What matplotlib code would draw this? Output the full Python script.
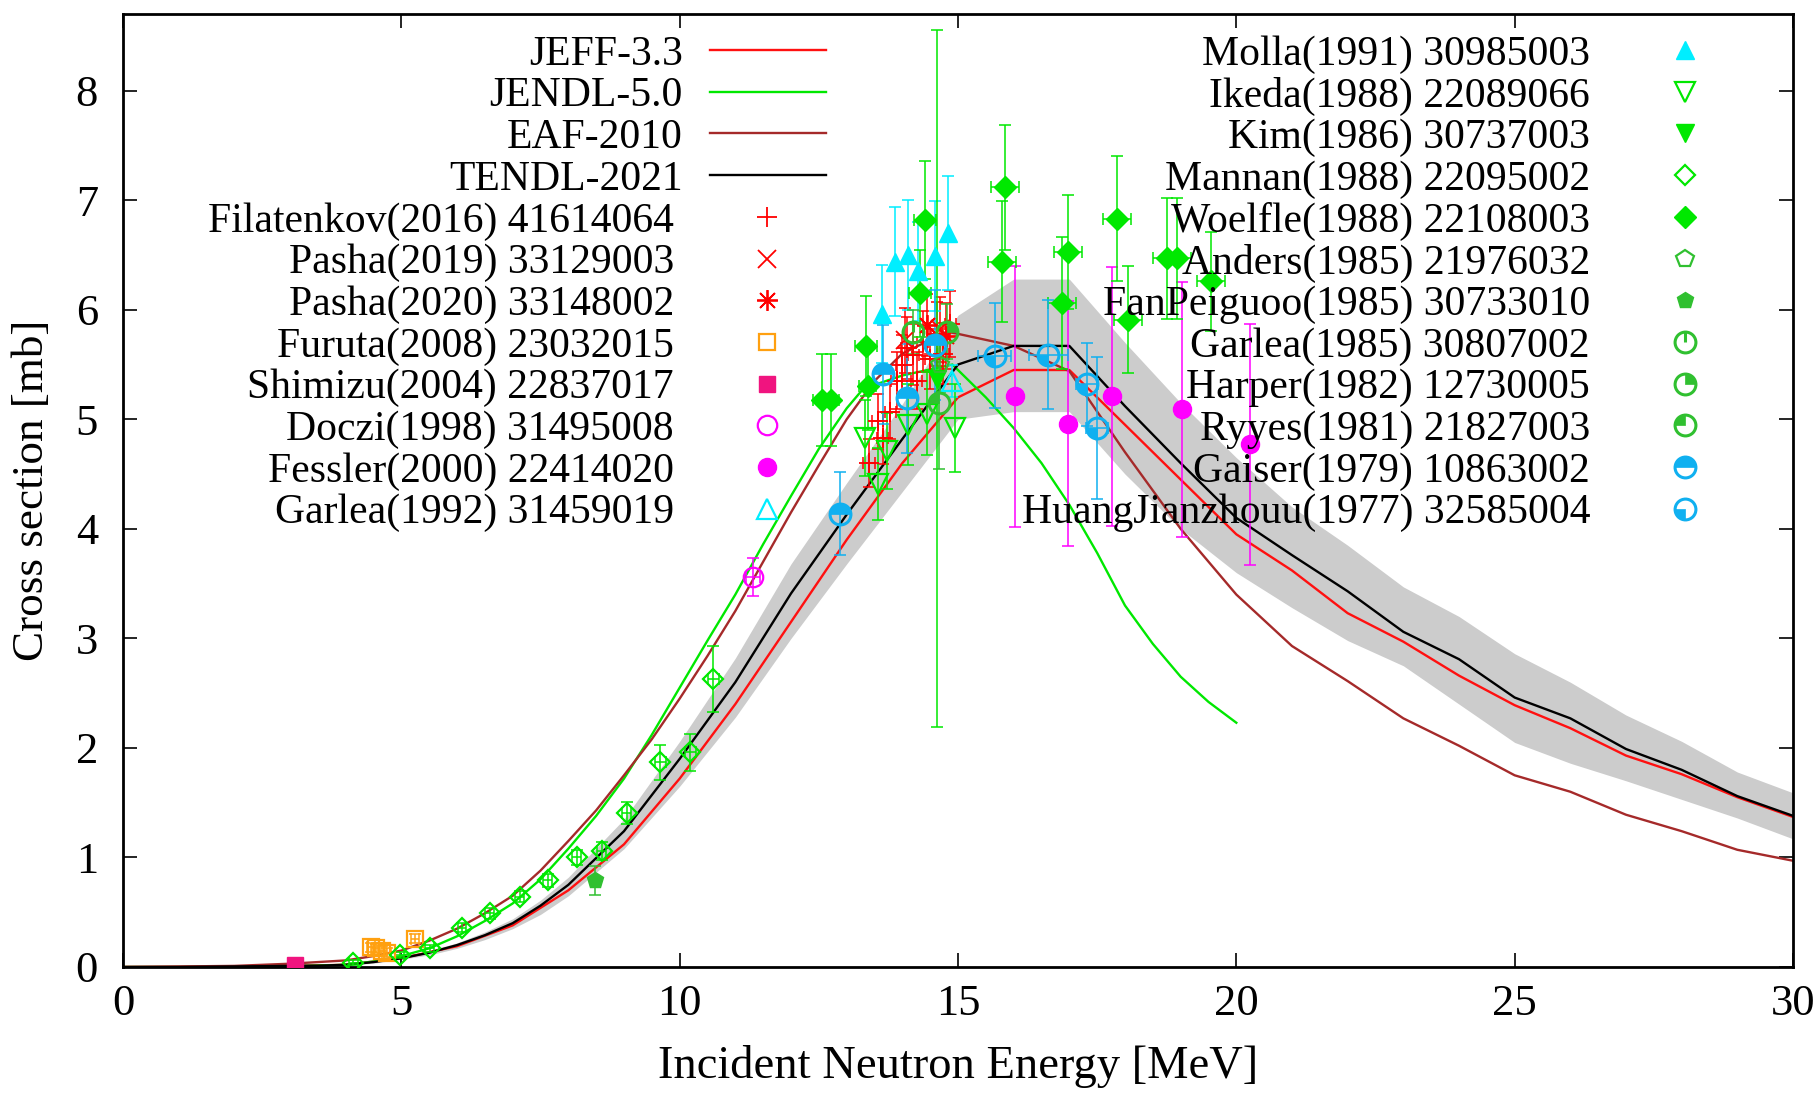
import matplotlib
matplotlib.use("Agg")
import matplotlib.pyplot as plt
from matplotlib import font_manager
from matplotlib.path import Path

# Times-lignende skrift
tilgjengelig = {f.name for f in font_manager.fontManager.ttflist}
serif_liste = [n for n in ("Liberation Serif", "Times New Roman", "Nimbus Roman",
                           "STIXGeneral", "DejaVu Serif") if n in tilgjengelig]
plt.rcParams["font.family"] = "serif"
plt.rcParams["font.serif"] = serif_liste + ["DejaVu Serif"]

# ---- evaluerte data (mb) ----
E_jeff = [0, 1, 2, 3, 4, 5, 6, 7, 8, 9, 10, 11, 12, 13, 14, 15, 16, 17, 18, 19, 20,
          21, 22, 23, 24, 25, 26, 27, 28, 29, 30]
xs_jeff = [0, 0, 0.005, 0.01, 0.02, 0.08, 0.19, 0.38, 0.7, 1.12, 1.72, 2.4, 3.15, 3.9,
           4.6, 5.2, 5.45, 5.45, 4.95, 4.45, 3.95, 3.62, 3.23, 2.97, 2.66, 2.39, 2.18,
           1.93, 1.76, 1.55, 1.37]

E_jendl = [0, 1, 2, 3, 4, 4.5, 5, 5.5, 6, 6.5, 7, 7.5, 8, 8.5, 9, 9.5, 10, 10.5, 11,
           11.5, 12, 12.5, 13, 13.3, 14, 14.9, 15.5, 16, 16.5, 17, 17.5, 18, 18.5, 19,
           19.5, 20]
xs_jendl = [0, 0, 0.002, 0.006, 0.02, 0.05, 0.1, 0.17, 0.28, 0.42, 0.58, 0.8, 1.08,
            1.38, 1.72, 2.12, 2.55, 2.98, 3.4, 3.86, 4.3, 4.73, 5.1, 5.28, 5.4, 5.5,
            5.2, 4.92, 4.6, 4.22, 3.78, 3.3, 2.95, 2.65, 2.42, 2.23]

E_eaf = [0, 1, 2, 3, 4, 4.5, 5, 5.5, 6, 6.5, 7, 7.5, 8, 8.5, 9, 9.5, 10, 10.5, 11,
         11.5, 12, 12.5, 13, 13.5, 14, 14.8, 15, 16, 17, 18, 19, 20, 21, 22, 23, 24,
         25, 26, 27, 28, 29, 30]
xs_eaf = [0, 0.005, 0.01, 0.03, 0.06, 0.1, 0.15, 0.24, 0.35, 0.49, 0.65, 0.88, 1.15,
          1.43, 1.75, 2.08, 2.45, 2.84, 3.25, 3.7, 4.15, 4.58, 5.0, 5.35, 5.6, 5.8,
          5.78, 5.67, 5.44, 4.7, 4.0, 3.4, 2.93, 2.61, 2.27, 2.02, 1.75, 1.6, 1.39,
          1.24, 1.07, 0.97]

E_tendl = [0, 1, 2, 3, 3.5, 4, 4.5, 5, 5.5, 6, 6.5, 7, 7.5, 8, 9, 10, 11, 12, 13, 14,
           15, 16, 17, 18, 19, 20, 21, 22, 23, 24, 25, 26, 27, 28, 29, 30]
xs_tendl = [0, 0, 0.005, 0.01, 0.012, 0.02, 0.045, 0.08, 0.13, 0.2, 0.29, 0.4, 0.56,
            0.75, 1.24, 1.9, 2.6, 3.41, 4.13, 4.82, 5.5, 5.67, 5.67, 5.12, 4.6, 4.1,
            3.76, 3.43, 3.06, 2.81, 2.46, 2.27, 1.99, 1.8, 1.56, 1.38]
tendl_hoy = [0, 0, 0.006, 0.012, 0.015, 0.025, 0.052, 0.09, 0.15, 0.22, 0.32, 0.44,
             0.61, 0.82, 1.35, 2.06, 2.82, 3.68, 4.42, 5.14, 5.95, 6.28, 6.28, 5.7,
             5.15, 4.65, 4.2, 3.85, 3.47, 3.2, 2.86, 2.6, 2.3, 2.06, 1.78, 1.59]
tendl_lav = [0, 0, 0.004, 0.008, 0.01, 0.015, 0.035, 0.07, 0.11, 0.17, 0.25, 0.35,
             0.48, 0.65, 1.08, 1.65, 2.28, 3.0, 3.68, 4.34, 5.0, 5.07, 5.07, 4.5, 4.0,
             3.6, 3.28, 2.98, 2.75, 2.4, 2.05, 1.86, 1.7, 1.53, 1.36, 1.17]

# ---- eksperimentelle data: E, tverrsnitt, feil i tverrsnitt, feil i E ----
E_fil = [13.4, 13.56, 13.65, 13.78, 13.9, 13.99, 14.08, 14.2, 14.26, 14.37, 14.5, 14.62, 14.73, 14.86]
xs_fil = [4.6, 4.98, 4.83, 5.07, 5.35, 5.5, 5.65, 5.59, 5.35, 5.71, 5.55, 5.78, 5.6, 5.87]
dxs_fil = [0.22, 0.25, 0.24, 0.25, 0.26, 0.27, 0.28, 0.28, 0.26, 0.28, 0.27, 0.29, 0.28, 0.3]
dE_fil = [0.1, 0.1, 0.1, 0.1, 0.1, 0.1, 0.1, 0.1, 0.1, 0.1, 0.1, 0.1, 0.1, 0.1]

E_pa19 = [14.05, 14.68]
xs_pa19 = [5.72, 5.82]
dxs_pa19 = [0.3, 0.3]

E_pa20 = [14.45, 14.78]
xs_pa20 = [5.86, 5.76]
dxs_pa20 = [0.28, 0.3]

E_fur = [4.45, 4.55, 4.65, 4.75, 5.25]
xs_fur = [0.18, 0.17, 0.15, 0.13, 0.26]
dxs_fur = [0.04, 0.04, 0.04, 0.04, 0.04]
dE_fur = [0.07, 0.07, 0.07, 0.07, 0.07]

E_shi = [3.09]
xs_shi = [0.02]
dxs_shi = [0.01]

E_doc = [11.32]
xs_doc = [3.56]
dxs_doc = [0.17]
dE_doc = [0.12]

E_fes = [16.02, 16.98, 17.76, 19.02, 20.24]
xs_fes = [5.21, 4.96, 5.21, 5.09, 4.77]
dxs_fes = [1.19, 1.12, 1.18, 1.16, 1.1]

E_ga92 = [14.9]
xs_ga92 = [5.35]
dxs_ga92 = [0.15]

E_mol = [13.63, 13.87, 14.1, 14.28, 14.59, 14.82]
xs_mol = [5.96, 6.44, 6.5, 6.35, 6.49, 6.7]
dxs_mol = [0.45, 0.5, 0.5, 0.45, 0.5, 0.52]

E_ike = [13.33, 13.57, 13.72, 14.1, 14.44, 14.95]
xs_ike = [4.83, 4.41, 4.71, 4.95, 5.05, 4.92]
dxs_ike = [0.35, 0.33, 0.35, 0.37, 0.38, 0.4]

E_kim = [14.62]
xs_kim = [5.37]
dxs_kim = [3.18]

E_man = [4.14, 4.97, 5.51, 6.09, 6.59, 7.13, 7.63, 8.15, 8.6, 9.05, 9.65, 10.19, 10.6]
xs_man = [0.04, 0.11, 0.17, 0.36, 0.49, 0.64, 0.79, 1.0, 1.06, 1.41, 1.87, 1.96, 2.63]
dxs_man = [0.02, 0.03, 0.03, 0.04, 0.05, 0.05, 0.06, 0.07, 0.08, 0.1, 0.16, 0.17, 0.3]
dE_man = [0.08, 0.08, 0.08, 0.08, 0.08, 0.08, 0.08, 0.08, 0.08, 0.08, 0.1, 0.1, 0.1]

E_woe = [12.55, 12.71, 13.35, 13.38, 14.32, 14.41, 15.79, 15.84, 16.87, 16.98, 17.85, 18.06, 18.75, 18.93, 19.55]
xs_woe = [5.18, 5.18, 5.67, 5.3, 6.15, 6.82, 6.44, 7.12, 6.06, 6.53, 6.83, 5.91, 6.47, 6.47, 6.26]
dxs_woe = [0.42, 0.42, 0.46, 0.4, 0.4, 0.54, 0.55, 0.57, 0.6, 0.52, 0.57, 0.49, 0.55, 0.55, 0.45]
dE_woe = [0.15, 0.15, 0.2, 0.15, 0.2, 0.2, 0.25, 0.25, 0.25, 0.25, 0.25, 0.25, 0.25, 0.25, 0.25]

E_and = [14.68]
xs_and = [5.5]
dxs_and = [0.25]

E_fan = [8.48]
xs_fan = [0.79]
dxs_fan = [0.13]

E_ga85 = [14.2]
xs_ga85 = [5.8]
dxs_ga85 = [0.2]

E_har = [14.8]
xs_har = [5.8]
dxs_har = [0.25]

E_ryy = [14.65]
xs_ryy = [5.15]
dxs_ryy = [0.6]

E_gai = [12.88, 13.65, 14.08, 14.59]
xs_gai = [4.14, 5.41, 5.19, 5.68]
dxs_gai = [0.38, 0.45, 0.5, 0.5]

E_hua = [15.66, 16.62, 17.32, 17.5]
xs_hua = [5.58, 5.59, 5.32, 4.92]
dxs_hua = [0.48, 0.5, 0.38, 0.65]
dE_hua = [0.3, 0.35, 0.2, 0.2]

RED = "#ff0000"
GRONN = "#00e800"
MORKGRONN = "#30c030"
BLAA = "#10b0f0"

eksp = [
    ("Filatenkov(2016) 41614064", E_fil, xs_fil, dxs_fil, dE_fil, RED, "+"),
    ("Pasha(2019) 33129003", E_pa19, xs_pa19, dxs_pa19, None, RED, "x"),
    ("Pasha(2020) 33148002", E_pa20, xs_pa20, dxs_pa20, None, RED, "*"),
    ("Furuta(2008) 23032015", E_fur, xs_fur, dxs_fur, dE_fur, "#ffa010", "s_apen"),
    ("Shimizu(2004) 22837017", E_shi, xs_shi, dxs_shi, None, "#f0147f", "s"),
    ("Doczi(1998) 31495008", E_doc, xs_doc, dxs_doc, dE_doc, "#ff00ff", "o_apen"),
    ("Fessler(2000) 22414020", E_fes, xs_fes, dxs_fes, None, "#ff00ff", "o"),
    ("Garlea(1992) 31459019", E_ga92, xs_ga92, dxs_ga92, None, "#00eeff", "^_apen"),
    ("Molla(1991) 30985003", E_mol, xs_mol, dxs_mol, None, "#00eeff", "^"),
    ("Ikeda(1988) 22089066", E_ike, xs_ike, dxs_ike, None, GRONN, "v_apen"),
    ("Kim(1986) 30737003", E_kim, xs_kim, dxs_kim, None, GRONN, "v"),
    ("Mannan(1988) 22095002", E_man, xs_man, dxs_man, dE_man, GRONN, "D_apen"),
    ("Woelfle(1988) 22108003", E_woe, xs_woe, dxs_woe, dE_woe, GRONN, "D"),
    ("Anders(1985) 21976032", E_and, xs_and, dxs_and, None, MORKGRONN, "p_apen"),
    ("FanPeiguoo(1985) 30733010", E_fan, xs_fan, dxs_fan, None, MORKGRONN, "p"),
    ("Garlea(1985) 30807002", E_ga85, xs_ga85, dxs_ga85, None, MORKGRONN, "o_linje"),
    ("Harper(1982) 12730005", E_har, xs_har, dxs_har, None, MORKGRONN, "o_q1"),
    ("Ryyes(1981) 21827003", E_ryy, xs_ryy, dxs_ryy, None, MORKGRONN, "o_q2"),
    ("Gaiser(1979) 10863002", E_gai, xs_gai, dxs_gai, None, BLAA, "o_topp"),
    ("HuangJianzhouu(1977) 32585004", E_hua, xs_hua, dxs_hua, dE_hua, BLAA, "o_q3"),
]

kurver = [
    ("JEFF-3.3", E_jeff, xs_jeff, "#ff1010"),
    ("JENDL-5.0", E_jendl, xs_jendl, "#00e800"),
    ("EAF-2010", E_eaf, xs_eaf, "#a52a2a"),
    ("TENDL-2021", E_tendl, xs_tendl, "black"),
]

KILER = {
    "o_q1": Path.wedge(0, 90),
    "o_q2": Path.wedge(90, 180),
    "o_topp": Path.wedge(0, 180),
    "o_q3": Path.wedge(180, 270),
}
STREK = Path([(0, 0), (0, 1)], [Path.MOVETO, Path.LINETO])


def merkestiler(type_, farge):
    """Returnerer liste med plot-stiler for en gnuplot-lignende markør."""
    apen = dict(mfc="none", mec=farge, mew=1.6)
    fylt = dict(mfc=farge, mec=farge, mew=1.0)
    if type_ == "+":
        return [dict(marker="+", ms=15, mew=1.3, mec=farge)]
    if type_ == "x":
        return [dict(marker="x", ms=13, mew=1.3, mec=farge)]
    if type_ == "*":
        return [dict(marker=(8, 2, 0), ms=15, mew=1.3, mec=farge)]
    if type_ in ("s", "o", "^", "v", "D", "p"):
        ms = {"s": 12, "o": 13, "^": 13, "v": 13, "D": 11, "p": 12}[type_]
        return [dict(marker=type_, ms=ms, **fylt)]
    if type_.endswith("_apen"):
        m = type_[0]
        ms = {"s": 11, "o": 14, "^": 14, "v": 15, "D": 10, "p": 13}[m]
        return [dict(marker=m, ms=ms, **apen)]
    # sirkler med delvis fyll
    stiler = [dict(marker="o", ms=15, mfc="none", mec=farge, mew=2.2)]
    if type_ == "o_linje":
        stiler.append(dict(marker=STREK, ms=15, mfc="none", mec=farge, mew=2.2))
    else:
        stiler.append(dict(marker=KILER[type_], ms=14, mfc=farge, mec=farge, mew=0.5))
    return stiler


def tegn_merke(ax, x, y, farge, type_, **kw):
    for stil in merkestiler(type_, farge):
        ax.plot(x, y, ls="none", **stil, **kw)


fig = plt.figure(figsize=(18.2, 10.97), dpi=100)
ax = fig.add_axes([123 / 1820, 1 - 967 / 1097, 1670 / 1820, 953 / 1097])

# usikkerhetsbånd for TENDL
ax.fill_between(E_tendl, tendl_lav, tendl_hoy, color="#cccccc", lw=0, zorder=1)

for navn, E, xs, farge in kurver:
    ax.plot(E, xs, color=farge, lw=1.7, zorder=2)

for navn, E, xs, dxs, dE, farge, type_ in eksp:
    ax.errorbar(E, xs, yerr=dxs, xerr=dE, fmt="none", ecolor=farge,
                elinewidth=1.1, capsize=4, capthick=1.1, zorder=3)
    tegn_merke(ax, E, xs, farge, type_, zorder=4)

ax.set_xlim(0, 30)
ax.set_ylim(0, 8.7)
ax.set_xticks(range(0, 31, 5))
ax.set_yticks(range(0, 9))
ax.tick_params(direction="in", length=10, width=1.2, top=True, right=True,
               labelsize=32)
ax.tick_params(axis="x", pad=12)
ax.tick_params(axis="y", pad=18)
for s in ax.spines.values():
    s.set_linewidth(2)

ax.set_xlabel("Incident Neutron Energy [MeV]", fontsize=33.5)
ax.xaxis.set_label_coords(0.5, -0.082)
ax.set_ylabel("Cross section [mb]", fontsize=32.5)
ax.yaxis.set_label_coords(-0.0425, 0.5)


# ---- forklaring, tegnet manuelt i gnuplot-stil ----
def akse_x(px):
    return (px - 123) / 1670


def akse_y(py):
    return (967 - py) / 953


rader = [50 + 41.7 * i for i in range(12)]
venstre = [(k[0], "linje", k[3], 683) for k in kurver] + \
          [(e[0], e[6], e[5], 674) for e in eksp[:8]]
hoyre = [(e[0], e[6], e[5], 1590) for e in eksp[8:]]

for kolonne, merke_x in ((venstre, 767), (hoyre, 1685)):
    for (navn, type_, farge, tekst_x), ry in zip(kolonne, rader):
        ax.text(akse_x(tekst_x), akse_y(ry), navn, ha="right", va="center_baseline",
                fontsize=30, transform=ax.transAxes, zorder=10)
        if type_ == "linje":
            ax.plot([akse_x(710), akse_x(826)], [akse_y(ry), akse_y(ry)], color=farge,
                    lw=1.7, transform=ax.transAxes, clip_on=False, zorder=10)
        else:
            tegn_merke(ax, [akse_x(merke_x)], [akse_y(ry)], farge, type_,
                       transform=ax.transAxes, clip_on=False, zorder=10)

fig.savefig("out.png", dpi=100)
